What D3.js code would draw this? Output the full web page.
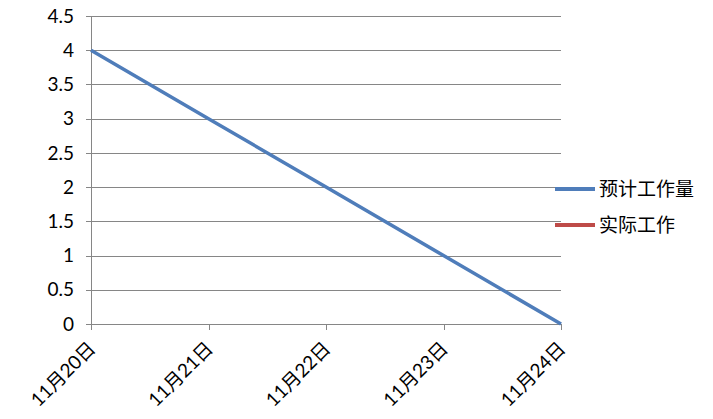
<!DOCTYPE html>
<html><head><meta charset="utf-8">
<script src="https://cdn.jsdelivr.net/npm/d3@7"></script>
<style>body{margin:0;background:#fff;} svg{display:block;}</style>
</head><body>
<svg id="c" width="713" height="419"></svg>
<script>
const categories = ["11月20日","11月21日","11月22日","11月23日","11月24日"];
const planned = [4, 3, 2, 1, 0];
const actual = [];
const seriesNames = ["预计工作量","实际工作"];
const yTicks = [0,0.5,1,1.5,2,2.5,3,3.5,4,4.5];
const colors = ["#4F7DBA","#BE4B48"];

(function(){
const svg = d3.select("#c");
const pL = 91, pR = 561, pT = 16, pB = 324;
const x = d3.scalePoint().domain(categories).range([pL, pR]).padding(0);
const y = d3.scaleLinear().domain([0, 4.5]).range([pB, pT]);
const font = "'Lato','Noto Sans CJK SC',sans-serif";

svg.append("g").selectAll("line").data(yTicks).join("line")
  .attr("x1", pL - 5).attr("x2", pR)
  .attr("y1", d => Math.round(y(d)) + 0.5).attr("y2", d => Math.round(y(d)) + 0.5)
  .attr("stroke", "#868686").attr("stroke-width", 1);

svg.append("line").attr("x1", pL + 0.5).attr("x2", pL + 0.5)
  .attr("y1", pT).attr("y2", pB).attr("stroke", "#868686");

svg.append("g").selectAll("text").data(yTicks).join("text")
  .attr("x", 74).attr("y", d => y(d)).attr("dy", "0.35em")
  .attr("text-anchor", "end").attr("font-family", font).attr("font-size", 19)
  .attr("fill", "#000").text(d => d);

svg.append("g").selectAll("line").data(categories).join("line")
  .attr("x1", d => Math.round(x(d)) + 0.5).attr("x2", d => Math.round(x(d)) + 0.5)
  .attr("y1", pB).attr("y2", pB + 6).attr("stroke", "#868686");

svg.append("g").selectAll("text").data(categories).join("text")
  .attr("transform", d => `translate(${x(d) + 1},${pB + 21}) rotate(-45)`)
  .attr("text-anchor", "end").attr("dy", "0.35em")
  .attr("font-family", font).attr("font-size", 19)
  .attr("fill", "#000").text(d => d);

const line = d3.line().x((d, i) => x(categories[i])).y(d => y(d));
svg.append("path").datum(planned).attr("d", line)
  .attr("fill", "none").attr("stroke", colors[0]).attr("stroke-width", 3.5);
if (actual.length) {
  svg.append("path").datum(actual).attr("d", line)
    .attr("fill", "none").attr("stroke", colors[1]).attr("stroke-width", 3.5);
}

const lg = svg.append("g").selectAll("g").data(seriesNames).join("g")
  .attr("transform", (d, i) => `translate(555,${189 + i * 36})`);
lg.append("line").attr("x1", 0).attr("x2", 40).attr("y1", 0).attr("y2", 0)
  .attr("stroke", (d, i) => colors[i]).attr("stroke-width", 4);
lg.append("text").attr("x", 44).attr("dy", "0.35em")
  .attr("font-family", "'Noto Sans CJK SC',sans-serif").attr("font-size", 19)
  .attr("fill", "#000").text(d => d);
})();
</script>
</body></html>
